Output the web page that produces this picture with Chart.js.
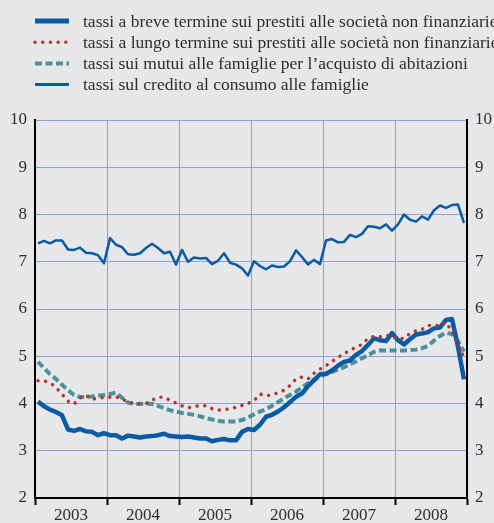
<!DOCTYPE html>
<html>
<head>
<meta charset="utf-8">
<script src="https://cdn.jsdelivr.net/npm/chart.js@4"></script>
<style>
    html, body { margin: 0; padding: 0; background: #e6e7e9; }
    canvas { display: block; }
</style>
</head>
<body>
<canvas id="tassiChart" width="494" height="523"></canvas>
<script>
'use strict';

/* ───── DATI (mensili, gen 2003 – dic 2008) ─────────────────────────────── */
const anni = ['2003', '2004', '2005', '2006', '2007', '2008'];

const breveTermine = [
    4.04, 3.94, 3.87, 3.82, 3.75, 3.45, 3.42, 3.46, 3.41, 3.40, 3.33, 3.37,
    3.33, 3.33, 3.26, 3.32, 3.30, 3.28, 3.30, 3.31, 3.33, 3.36, 3.31, 3.30,
    3.29, 3.30, 3.28, 3.26, 3.26, 3.20, 3.23, 3.25, 3.22, 3.22, 3.40, 3.46,
    3.44, 3.55, 3.72, 3.76, 3.83, 3.92, 4.03, 4.14, 4.21, 4.37, 4.49, 4.62,
    4.63, 4.70, 4.80, 4.88, 4.91, 5.03, 5.11, 5.24, 5.38, 5.34, 5.32, 5.49,
    5.34, 5.25, 5.36, 5.46, 5.48, 5.51, 5.59, 5.61, 5.77, 5.79, 5.20, 4.51,
];

const lungoTermine = [
    4.48, 4.48, 4.44, 4.34, 4.20, 4.05, 3.99, 4.12, 4.17, 4.09, 4.11, 4.13,
    4.13, 4.14, 4.10, 4.03, 4.00, 4.00, 4.00, 4.07, 4.13, 4.13, 4.07, 4.01,
    3.95, 3.91, 3.93, 3.96, 3.95, 3.89, 3.86, 3.87, 3.89, 3.92, 3.96, 4.00,
    4.06, 4.20, 4.16, 4.18, 4.23, 4.28, 4.38, 4.52, 4.56, 4.52, 4.64, 4.73,
    4.80, 4.89, 4.98, 5.05, 5.13, 5.19, 5.25, 5.38, 5.42, 5.41, 5.44, 5.44,
    5.36, 5.38, 5.48, 5.54, 5.57, 5.65, 5.66, 5.64, 5.72, 5.52, 5.26, 4.96,
];

const mutuiAbitazioni = [
    4.88, 4.75, 4.62, 4.52, 4.40, 4.28, 4.18, 4.14, 4.14, 4.15, 4.17, 4.18,
    4.20, 4.23, 4.12, 4.02, 3.99, 3.99, 4.00, 3.99, 3.95, 3.90, 3.86, 3.83,
    3.80, 3.78, 3.76, 3.73, 3.69, 3.66, 3.63, 3.62, 3.62, 3.62, 3.65, 3.70,
    3.77, 3.83, 3.88, 3.95, 4.03, 4.11, 4.18, 4.25, 4.34, 4.43, 4.51, 4.57,
    4.62, 4.67, 4.72, 4.77, 4.83, 4.89, 4.96, 5.02, 5.09, 5.12, 5.12, 5.12,
    5.12, 5.12, 5.13, 5.14, 5.17, 5.22, 5.33, 5.43, 5.50, 5.47, 5.32, 5.10,
];

const creditoConsumo = [
    7.39, 7.44, 7.39, 7.45, 7.45, 7.26, 7.25, 7.30, 7.19, 7.18, 7.14, 6.97,
    7.50, 7.36, 7.31, 7.16, 7.15, 7.18, 7.29, 7.38, 7.29, 7.18, 7.21, 6.94,
    7.25, 7.00, 7.09, 7.07, 7.08, 6.95, 7.02, 7.18, 6.98, 6.94, 6.86, 6.71,
    7.01, 6.91, 6.84, 6.92, 6.89, 6.90, 7.01, 7.24, 7.10, 6.94, 7.04, 6.95,
    7.45, 7.48, 7.41, 7.42, 7.57, 7.52, 7.59, 7.75, 7.74, 7.71, 7.79, 7.66,
    7.79, 8.00, 7.89, 7.85, 7.96, 7.89, 8.09, 8.19, 8.14, 8.20, 8.21, 7.82,
];

/* ───── STILE ───────────────────────────────────────────────────────────── */
const BLU   = '#0a5aa5';
const ROSSO = '#b3362d';
const TEAL  = '#4f8e9c';
const GRIGLIA = '#8fa1d8';
const TESTO = '#2d2d2d';
const FONT  = 'Liberation Serif';

// punto a metà del mese: x = indice + 0.5 (scala lineare 0..72 mesi)
const serie = arr => arr.map((v, i) => ({ x: i + 0.5, y: v }));

/* ───── LEGENDA (linee campione + testo) ───────────────────────────────── */
const legendaPlugin = {
    id: 'legendaTassi',
    afterDraw(chart) {
        const { ctx } = chart;
        ctx.save();
        chart.data.datasets.forEach((ds, i) => {
            const y = 21 + i * 21.2;
            ctx.strokeStyle = ds.borderColor;
            ctx.lineWidth = ds.legendWidth ?? ds.borderWidth;
            ctx.lineCap = ds.borderCapStyle ?? 'butt';
            ctx.setLineDash(ds.borderDash ?? []);
            ctx.beginPath(); ctx.moveTo(35, y); ctx.lineTo(69, y); ctx.stroke();
            ctx.setLineDash([]);
            ctx.fillStyle = TESTO;
            ctx.font = `17.5px "${FONT}"`;
            ctx.textBaseline = 'middle';
            ctx.fillText(ds.label, 83, y + 1);
        });
        ctx.restore();
    },
};

/* ───── GRAFICO ─────────────────────────────────────────────────────────── */
const tickFont = { family: FONT, size: 17 };

new Chart(document.getElementById('tassiChart').getContext('2d'), {
    type: 'line',
    data: {
        datasets: [
            {
                label: 'tassi a breve termine sui prestiti alle società non finanziarie',
                data: serie(breveTermine),
                borderColor: BLU, borderWidth: 4.5, legendWidth: 5,
                borderJoinStyle: 'round', order: 1,
            },
            {
                label: 'tassi a lungo termine sui prestiti alle società non finanziarie',
                data: serie(lungoTermine),
                borderColor: ROSSO, borderWidth: 3.5,
                borderDash: [0.01, 7.7], borderCapStyle: 'round', order: 0,
            },
            {
                label: 'tassi sui mutui alle famiglie per l’acquisto di abitazioni',
                data: serie(mutuiAbitazioni),
                borderColor: TEAL, borderWidth: 4,
                borderDash: [7, 3.5], order: 2,
            },
            {
                label: 'tassi sul credito al consumo alle famiglie',
                data: serie(creditoConsumo),
                borderColor: BLU, borderWidth: 2.5, legendWidth: 3,
                borderJoinStyle: 'round', order: 3,
            },
        ],
    },
    options: {
        responsive: false,
        animation: false,
        layout: { padding: { top: 120, left: 0, right: 0, bottom: 0 } },
        elements: { point: { radius: 0 }, line: { tension: 0, fill: false } },
        plugins: { legend: { display: false }, tooltip: { enabled: false } },
        scales: {
            x: {
                type: 'linear', min: 0, max: 72,
                ticks: {
                    stepSize: 6, autoSkip: false, maxRotation: 0, padding: 0,
                    font: tickFont, color: TESTO,
                    callback: v => (v % 12 === 6 ? anni[(v - 6) / 12] : ''),
                },
                grid: {
                    color: c => (c.tick && c.tick.value % 12 === 0 && c.tick.value > 0 && c.tick.value < 72) ? GRIGLIA : 'transparent',
                    tickColor: c => (c.tick && c.tick.value % 12 === 0) ? '#000' : 'transparent',
                    tickLength: 7, tickWidth: 2, lineWidth: 1,
                },
                border: { color: '#000', width: 2 },
                afterFit: s => { s.height = 25; },
            },
            y: {
                position: 'left', min: 2, max: 10,
                ticks: { stepSize: 1, padding: 8, font: tickFont, color: TESTO },
                grid: { color: GRIGLIA, drawTicks: false, lineWidth: 1 },
                border: { color: '#000', width: 2 },
                afterFit: s => { s.width = 35; },
            },
            y2: {
                position: 'right', min: 2, max: 10,
                ticks: { stepSize: 1, padding: 8, font: tickFont, color: TESTO },
                grid: { display: false, drawTicks: false },
                border: { color: '#000', width: 2 },
                afterFit: s => { s.width = 27; },
            },
        },
    },
    plugins: [legendaPlugin],
});
</script>
</body>
</html>
